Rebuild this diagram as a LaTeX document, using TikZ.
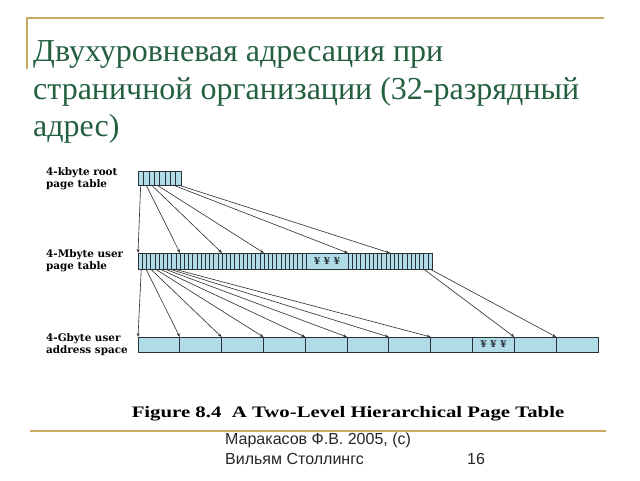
\documentclass[tikz,border=0pt]{standalone}
\usepackage{fontspec}
\setmainfont{Liberation Serif}
\newfontfamily\titlefont{Liberation Serif}
\newfontfamily\lblfont{DejaVu Serif}
\newfontfamily\capfont[FakeStretch=1.3]{Liberation Serif}
\newfontfamily\footfont{Liberation Sans}
\usetikzlibrary{arrows.meta,calc}
\definecolor{cellblue}{RGB}{176,220,232}
\definecolor{segline}{RGB}{40,50,55}
\definecolor{arrowgray}{RGB}{55,55,55}
\definecolor{titlegreen}{RGB}{36,96,64}
\definecolor{gold}{RGB}{200,170,100}
\tikzset{
  seg/.style={draw=segline, line width=0.9pt, fill=cellblue, inner sep=0pt, outer sep=0pt, anchor=north west},
  cellline/.style={draw=segline, line width=0.35pt},
  ptr/.style={draw=arrowgray, line width=0.65pt, -{Stealth[length=4pt,width=3pt]}},
  lbl/.style={font=\lblfont\bfseries\fontsize{10.4}{12}\selectfont, align=left, anchor=west, inner sep=0pt},
  dotstxt/.style={font=\lblfont\bfseries\fontsize{9.5}{10}\selectfont, text=segline, inner sep=0pt},
  titletxt/.style={font=\titlefont\fontsize{32}{38}\selectfont, text=titlegreen, anchor=base west, inner sep=0pt},
  captxt/.style={font=\capfont\bfseries\fontsize{16}{18}\selectfont, inner sep=0pt},
  foottxt/.style={font=\footfont\fontsize{16}{18}\selectfont, text=black!85, anchor=west, inner sep=0pt},
  goldline/.style={draw=gold, line width=1.2pt}
}
\begin{document}
\begin{tikzpicture}[x=1pt,y=-1pt]
\useasboundingbox (0,0) rectangle (640,480);
% frame lines
\coordinate (g1) at (27,69);
\coordinate (g2) at (27,18);
\coordinate (g3) at (604,18);
\draw[goldline] (g1) -- (g2) -- (g3);
\coordinate (g4) at (30,431);
\coordinate (g5) at (606,431);
\draw[goldline] (g4) -- (g5);
% title
\node[titletxt] (title1) at (33,61) {Двухуровневая адресация при};
\node[titletxt] (title2) at (33,99) {страничной организации (32-разрядный};
\node[titletxt] (title3) at (33,136) {адрес)};
% labels
\node[lbl] (lr) at (46,179) {4-kbyte root\\page table};
\node[lbl] (lu) at (46,261) {4-Mbyte user\\page table};
\node[lbl] (la) at (46,345) {4-Gbyte user\\address space};
% root table
\node[seg, minimum width=43pt, minimum height=14pt] (r) at (138,171) {};
\foreach \k in {1,...,7}
  \draw[cellline] ($(r.north west)!\k/8!(r.north east)$) -- ($(r.south west)!\k/8!(r.south east)$);
% user page table
\foreach \i in {1,...,7}
  \node[seg, minimum width=42pt, minimum height=16pt] (u\i) at ({138+42*(\i-1)},253) {};
\foreach \i in {1,2,3,4,6,7}
  \foreach \k in {1,...,9}
    \draw[cellline] ($(u\i.north west)!\k/10!(u\i.north east)$) -- ($(u\i.south west)!\k/10!(u\i.south east)$);
\node[dotstxt] (u5t) at (u5.center) {¥\ ¥\ ¥};
% address space
\foreach \i in {1,...,11}
  \node[seg, minimum width=41.82pt, minimum height=15pt] (a\i) at ({138+41.82*(\i-1)},337) {};
\node[dotstxt] (a9t) at (a9.center) {¥\ ¥\ ¥};
% root -> user page table
\foreach \k/\t [evaluate=\k as \f using (\k-0.5)/8] in {1/u1,2/u2,3/u3,4/u4,7/u6,8/u7}
  \draw[ptr] ($(r.south west)!\f!(r.south east)$) -- (\t.north west);
% user page table -> address space
\foreach \k/\t [evaluate=\k as \f using (\k-0.3)/9] in {1/a1,2/a2,3/a3,4/a4,5/a5,6/a6,7/a7,8/a8}
  \draw[ptr] ($(u1.south west)!\f!(u1.south east)$) -- (\t.north west);
\draw[ptr] ($(u7.south west)!0.8!(u7.south east)$) -- (a10.north west);
\draw[ptr] ($(u7.south west)!0.95!(u7.south east)$) -- (a11.north west);
% caption
\node[captxt] (cap) at (348,414) {Figure 8.4\ \ A Two-Level Hierarchical Page Table};
% footer
\node[foottxt] (f1) at (225,440) {Маракасов Ф.В. 2005, (с)};
\node[foottxt] (f2) at (225,459) {Вильям Столлингс};
\node[foottxt] (pg) at (467,459) {16};
\end{tikzpicture}
\end{document}
